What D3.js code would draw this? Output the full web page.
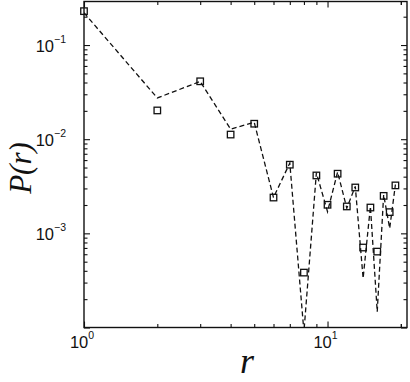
<!DOCTYPE html>
<html>
<head>
<meta charset="utf-8">
<script src="https://cdn.jsdelivr.net/npm/d3@7"></script>
<style>
  body { margin: 0; background: #fff; }
  svg { display: block; }
</style>
</head>
<body>
<div class="chart"></div>
<script>
// r values (shared by markers and dashed curve)
const rValues = [1, 2, 3, 4, 5, 6, 7, 8, 9, 10, 11, 12, 13, 14, 15, 16, 17, 18, 19]
// measured P(r) (squares)
const pMeasured = [0.229, 0.0202, 0.0412, 0.0112, 0.0146, 0.0024, 0.00536, 0.000383, 0.00412, 0.00201,
  0.0043, 0.00193, 0.00307, 0.000707, 0.00188, 0.00064, 0.0025, 0.00168, 0.00323]
// dashed curve
const pCurve = [0.22, 0.0274, 0.041, 0.0128, 0.0151, 0.0024, 0.00558, 0.00009, 0.0044, 0.0017,
  0.00448, 0.00185, 0.00315, 0.000333, 0.00193, 0.000147, 0.00257, 0.00113, 0.0033]
const xMajor = [1, 10]
const yMajor = [1e-4, 1e-3, 1e-2, 1e-1]
const xLabels = ['0', '1']
const yLabels = ['−4', '−3', '−2', '−1']

const width = 410
const height = 382
const plot = { left: 84, right: 407, top: 1.5, bottom: 327.5 }

const x = d3.scaleLog().domain([1, 21.2]).range([plot.left, plot.right])
const y = d3.scaleLog().domain([1e-4, 0.29]).range([plot.bottom, plot.top])

const svg = d3.select('.chart')
  .append('svg')
  .attr('width', width)
  .attr('height', height)

svg.append('defs').append('clipPath').attr('id', 'clip')
  .append('rect')
  .attr('x', plot.left).attr('y', plot.top)
  .attr('width', plot.right - plot.left).attr('height', plot.bottom - plot.top)

// minor tick values
const xMinor = []
for (let d = 1; d <= 10; d *= 10) {
  for (let k = 2; k <= 9; k++) if (k * d < 21.2) xMinor.push(k * d)
}
xMinor.push(20)
const yMinor = []
for (let d = 1e-4; d < 1; d *= 10) {
  for (let k = 2; k <= 9; k++) if (k * d < 0.29) yMinor.push(k * d)
}

const tickStyle = (g) => {
  g.select('.domain').remove()
  g.selectAll('.tick line').attr('stroke', '#111').attr('stroke-width', 1.1)
  g.selectAll('.tick text').remove()
}

const addAxis = (axis, transform, values, size) => {
  svg.append('g')
    .attr('transform', transform)
    .call(axis.tickValues(values).tickSize(size).tickFormat(''))
    .call(tickStyle)
}

addAxis(d3.axisBottom(x), `translate(0,${plot.bottom})`, xMajor, -6)
addAxis(d3.axisBottom(x), `translate(0,${plot.bottom})`, xMinor, -3.5)
addAxis(d3.axisTop(x), `translate(0,${plot.top})`, xMajor, -6)
addAxis(d3.axisTop(x), `translate(0,${plot.top})`, xMinor, -3.5)
addAxis(d3.axisLeft(y), `translate(${plot.left},0)`, yMajor, -6)
addAxis(d3.axisLeft(y), `translate(${plot.left},0)`, yMinor, -3.5)
addAxis(d3.axisRight(y), `translate(${plot.right},0)`, yMajor, -6)
addAxis(d3.axisRight(y), `translate(${plot.right},0)`, yMinor, -3.5)

// frame
svg.append('rect')
  .attr('x', plot.left).attr('y', plot.top)
  .attr('width', plot.right - plot.left).attr('height', plot.bottom - plot.top)
  .attr('fill', 'none')
  .attr('stroke', '#111')
  .attr('stroke-width', 1.4)

// dashed curve
const line = d3.line()
  .x((d, i) => x(rValues[i]))
  .y((d) => y(d))

svg.append('path')
  .datum(pCurve)
  .attr('clip-path', 'url(#clip)')
  .attr('d', line)
  .attr('fill', 'none')
  .attr('stroke', '#111')
  .attr('stroke-width', 1.3)
  .attr('stroke-dasharray', '5,3')

// square markers
const s = 6.5
svg.append('g')
  .selectAll('rect')
  .data(pMeasured)
  .enter()
  .append('rect')
  .attr('x', (d, i) => x(rValues[i]) - s / 2)
  .attr('y', (d) => y(d) - s / 2)
  .attr('width', s)
  .attr('height', s)
  .attr('fill', 'none')
  .attr('stroke', '#111')
  .attr('stroke-width', 1.3)

// tick labels
const font = "'Liberation Sans', Arial, sans-serif"

const yText = svg.append('g')
  .selectAll('text')
  .data(yMajor.slice(1))
  .enter()
  .append('text')
  .attr('x', 66)
  .attr('y', (d) => y(d) + 7)
  .attr('text-anchor', 'end')
  .attr('font-family', font)
  .attr('font-size', 16.5)
  .attr('fill', '#111')
yText.append('tspan').text('10')
yText.append('tspan')
  .attr('font-size', 10.5)
  .attr('dy', -9)
  .text((d, i) => yLabels[i + 1])

const xText = svg.append('g')
  .selectAll('text')
  .data(xMajor)
  .enter()
  .append('text')
  .attr('x', (d) => x(d) - 2)
  .attr('y', 348)
  .attr('text-anchor', 'middle')
  .attr('font-family', font)
  .attr('font-size', 16.5)
  .attr('fill', '#111')
xText.append('tspan').text('10')
xText.append('tspan')
  .attr('font-size', 10.5)
  .attr('dy', -9)
  .text((d, i) => xLabels[i])

// axis titles
svg.append('text')
  .attr('transform', 'translate(31,168) rotate(-90)')
  .attr('text-anchor', 'middle')
  .attr('font-family', "'Liberation Serif', 'Times New Roman', serif")
  .attr('font-style', 'italic')
  .attr('font-size', 31)
  .attr('fill', '#111')
  .text('P(r)')

svg.append('text')
  .attr('x', 247)
  .attr('y', 373)
  .attr('text-anchor', 'middle')
  .attr('font-family', "'Liberation Serif', 'Times New Roman', serif")
  .attr('font-style', 'italic')
  .attr('font-size', 36)
  .attr('fill', '#111')
  .text('r')
</script>
</body>
</html>
